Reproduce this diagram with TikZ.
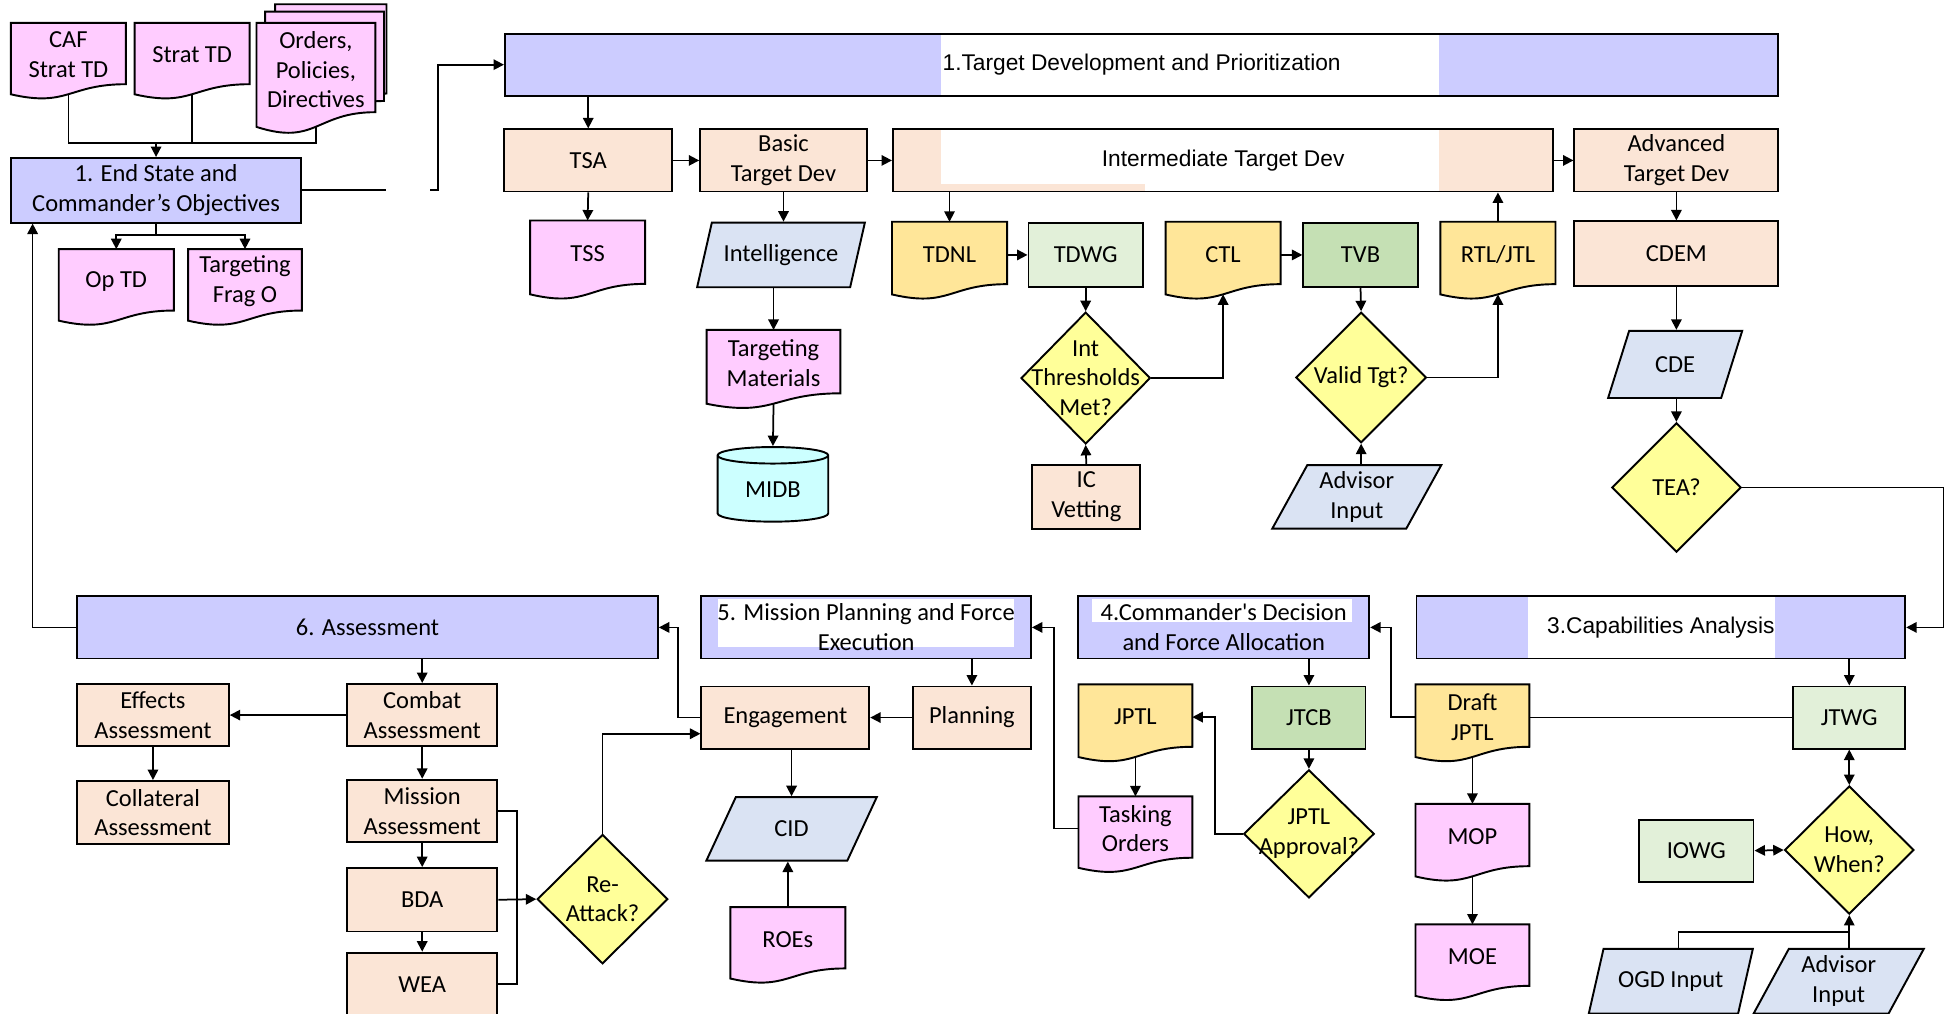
\documentclass[tikz,border=0pt]{standalone}
\usepackage{fontspec}
\setmainfont{Carlito}
\newfontfamily\arialf{Liberation Sans}
\newfontfamily\plainf{Carlito}[Ligatures=TeXOff]
\usepackage{tikz}
\usetikzlibrary{arrows.meta,positioning,calc,shapes.geometric}

\definecolor{phaselav}{RGB}{204,204,255}
\definecolor{procpeach}{RGB}{251,229,214}
\definecolor{docpink}{RGB}{255,204,255}
\definecolor{listgold}{RGB}{255,230,153}
\definecolor{wglight}{RGB}{226,240,217}
\definecolor{boardgrn}{RGB}{197,224,180}
\definecolor{decyel}{RGB}{255,255,153}
\definecolor{inblue}{RGB}{218,227,243}
\definecolor{dbcyan}{RGB}{204,255,255}

\newcommand\pxu{0.025cm}
\newcommand\bodyf{\fontsize{14}{17}\selectfont}
\newcommand\hdrf{\arialf\fontsize{13}{17}\selectfont}

% flowchart "document" shape: wavy bottom edge, text sits a little high
\makeatletter
\newdimen\dcxa \newdimen\dcya \newdimen\dcxb \newdimen\dcyb
\newdimen\dcxm \newdimen\dcyr \newdimen\dcyl \newdimen\dcyc \newdimen\dcyt
\pgfdeclareshape{docpage}{
  \inheritsavedanchors[from=rectangle]
  \inheritanchorborder[from=rectangle]
  \inheritanchor[from=rectangle]{center}
  \inheritanchor[from=rectangle]{mid}
  \inheritanchor[from=rectangle]{base}
  \inheritanchor[from=rectangle]{east}
  \inheritanchor[from=rectangle]{west}
  \anchor{north}{%
    \southwest \dcxa=\pgf@x \dcya=\pgf@y
    \northeast \dcxb=\pgf@x \dcyb=\pgf@y
    \pgf@x=.5\dcxa \advance\pgf@x by .5\dcxb
    \pgf@y=\dcyb \advance\pgf@y by -\dcya
    \pgf@y=-.08\pgf@y \advance\pgf@y by \dcyb}
  \anchor{south}{%
    \southwest \dcxa=\pgf@x \dcya=\pgf@y
    \northeast \dcxb=\pgf@x \dcyb=\pgf@y
    \pgf@x=.5\dcxa \advance\pgf@x by .5\dcxb
    \pgf@y=\dcyb \advance\pgf@y by -\dcya
    \pgf@y=-1.013\pgf@y \advance\pgf@y by \dcyb}
  \backgroundpath{%
    \southwest \dcxa=\pgf@x \dcya=\pgf@y
    \northeast \dcxb=\pgf@x \dcyb=\pgf@y
    \dcxm=.5\dcxa \advance\dcxm by .5\dcxb
    \dcyt=\dcyb \advance\dcyt by -\dcya
    \dcyr=-.802\dcyt \dcyl=-.934\dcyt \dcyc=-1.107\dcyt
    \dcyt=-.08\dcyt \advance\dcyt by \dcyb
    \advance\dcyr by \dcyt \advance\dcyl by \dcyt \advance\dcyc by \dcyt
    \pgfpathmoveto{\pgfqpoint{\dcxa}{\dcyt}}
    \pgfpathlineto{\pgfqpoint{\dcxb}{\dcyt}}
    \pgfpathlineto{\pgfqpoint{\dcxb}{\dcyr}}
    \pgfpathcurveto{\pgfqpoint{\dcxm}{\dcyr}}{\pgfqpoint{\dcxm}{\dcyc}}{\pgfqpoint{\dcxa}{\dcyl}}
    \pgfpathclose}
}
\makeatother

% white patch inside a box, offsets from its top left corner
\newcommand\wpatch[4]{%
  \fill[white] ([shift={(#1*\pxu,-#2*\pxu)}]path picture bounding box.north west)
    rectangle ([shift={(#3*\pxu,-#4*\pxu)}]path picture bounding box.north west);}

\tikzset{
  flbase/.style={draw, line width=1.1pt, font=\bodyf, align=center, inner sep=1pt},
  procbox/.style={flbase, rectangle, fill=procpeach},
  phasebox/.style={flbase, rectangle, fill=phaselav},
  wgbox/.style={flbase, rectangle, fill=wglight},
  boardbox/.style={flbase, rectangle, fill=boardgrn},
  docbox/.style={flbase, shape=docpage, fill=docpink},
  listdoc/.style={flbase, shape=docpage, fill=listgold},
  inbox/.style={flbase, trapezium, trapezium left angle=63, trapezium right angle=117,
                trapezium stretches=true, fill=inblue},
  decide/.style={flbase, diamond, fill=decyel, inner sep=0pt},
  dbbox/.style={flbase, cylinder, shape border rotate=90, aspect=0.28, fill=dbcyan},
  dtext/.style={align=center, font=\bodyf, inner sep=0pt},
  sz/.style 2 args={minimum width=#1*\pxu, minimum height=#2*\pxu},
  link/.style={line width=1pt},
  arr/.style={link, -{Triangle[length=2.1mm, width=2.1mm]}},
  dblarr/.style={link, {Triangle[length=2.1mm, width=2.1mm]}-{Triangle[length=2.1mm, width=2.1mm]}}
}

\begin{document}
\begin{tikzpicture}[x=0.025cm, y=-0.025cm]
  \useasboundingbox (0,0) rectangle (1568,815);

  % guidance inputs and end state
  \node[docbox, sz={91}{60}] (caf) at (55,44.2) {CAF\\Strat TD};
  \node[docbox, sz={91}{60}] (strat) at (154.5,44.2) {Strat TD};
  \node[docbox, sz={88}{88}] (ord3) at (266,41) {};
  \node[docbox, sz={94}{88}] (ord2) at (261,47) {};
  \node[docbox, sz={94}{88}] (ord) at (254,56) {Orders,\\Policies,\\Directives};
  \node[phasebox, sz={233}{52}] (endst) at (125.5,153) {1. End State and\\Commander’s Objectives};
  \node[docbox, sz={91}{60}] (optd) at (93.5,226.2) {Op TD};
  \node[docbox, sz={90}{60}] (frago) at (197,226.2) {Targeting\\Frag O};

  % phase 2: target development
  \node[phasebox, sz={1024}{50}, font=\hdrf, path picture={\wpatch{351}{0}{751}{50}}] (hdr1)
    at (918,52) {1.Target Development and Prioritization};
  \node[procbox, sz={135}{50}] (tsa) at (473,129) {TSA};
  \node[procbox, sz={134}{50}] (basic) at (630,129) {Basic\\Target Dev};
  \node[procbox, sz={531}{50}, font=\hdrf,
        path picture={\wpatch{39}{0}{439}{44}\wpatch{203}{43}{439}{50}}] (inter)
    at (983.5,129) {Intermediate Target Dev};
  \node[procbox, sz={164}{50}] (adv) at (1348,129) {Advanced\\Target Dev};

  \node[docbox, sz={91}{62}] (tss) at (472.5,204) {TSS};
  \node[inbox, sz={136}{52}] (intel) at (628,205) {Intelligence};
  \node[listdoc, sz={91}{61}] (tdnl) at (763.5,204.6) {TDNL};
  \node[wgbox, sz={92}{52}] (tdwg) at (873,205) {TDWG};
  \node[listdoc, sz={91}{61}] (ctl) at (983.5,204.6) {CTL};
  \node[boardbox, sz={92}{52}] (tvb) at (1094,205) {TVB};
  \node[listdoc, sz={91}{61}] (rtl) at (1204.5,204.6) {RTL/JTL};
  \node[procbox, sz={164}{52}] (cdem) at (1348,204) {CDEM};

  \node[docbox, sz={106}{62}] (tmat) at (622,292) {Targeting\\Materials};
  \node[dbbox, sz={89}{60}] (midb) at (621.5,394) {MIDB};
  \node[decide, sz={104}{106}, label={[dtext]center:Int\\Thresholds\\Met?}] (thr) at (873,304) {};
  \node[procbox, sz={87}{51}] (icv) at (873.5,399.5) {IC\\Vetting};
  \node[decide, sz={105}{105}, label={[dtext]center:Valid Tgt?}] (valid) at (1094.5,303.5) {};
  \node[inbox, sz={136}{51}] (advin) at (1091,399.5) {Advisor\\Input};
  \node[inbox, sz={108}{54}] (cde) at (1347,293) {CDE};
  \node[decide, sz={104}{104}, label={[dtext]center:TEA?}] (tea) at (1348,392) {};

  % phases 3 to 6
  \node[phasebox, sz={467}{50}] (asm) at (295.5,504.5) {6. Assessment};
  \node[phasebox, sz={265}{50}, path picture={\wpatch{13}{2}{251}{41}}] (hdr5)
    at (696.5,504.5) {5. Mission Planning and Force\\Execution};
  \node[phasebox, sz={234}{50}, path picture={\wpatch{11}{2}{220}{21}}] (hdr4)
    at (984,504.5) {4.Commander{\plainf'}s Decision\\and Force Allocation};
  \node[phasebox, sz={393}{50}, font=\hdrf, path picture={\wpatch{90}{0}{288}{50}}] (hdr3)
    at (1335.5,504.5) {3.Capabilities Analysis};

  \node[procbox, sz={122}{50}] (effa) at (123,575) {Effects\\Assessment};
  \node[procbox, sz={122}{51}] (colla) at (123,653.5) {Collateral\\Assessment};
  \node[procbox, sz={121}{50}] (comba) at (339.5,575) {Combat\\Assessment};
  \node[procbox, sz={121}{50}] (missa) at (339.5,652) {Mission\\Assessment};
  \node[procbox, sz={121}{51}] (bda) at (339.5,723.5) {BDA};
  \node[procbox, sz={121}{51}] (wea) at (339.5,791.5) {WEA};
  \node[decide, sz={105}{104}, label={[dtext]center:Re-\\Attack?}] (reatk) at (484.5,723) {};

  \node[procbox, sz={135}{50}] (eng) at (631.5,577) {Engagement};
  \node[procbox, sz={95}{50}] (plan) at (781.5,577) {Planning};
  \node[inbox, sz={137}{51}] (cid) at (636.5,666.5) {CID};
  \node[docbox, sz={91}{60}] (roes) at (633.5,755.2) {ROEs};

  \node[listdoc, sz={90}{61}] (jptl) at (913,576.6) {JPTL};
  \node[docbox, sz={90}{60}] (task) at (913,666.2) {Tasking\\Orders};
  \node[boardbox, sz={91}{50}] (jtcb) at (1052.5,577) {JTCB};
  \node[decide, sz={105}{103}, label={[dtext]center:JPTL\\Approval?}] (jappr) at (1052.5,670.5) {};

  \node[listdoc, sz={90}{61}] (draft) at (1184,576.6) {Draft\\JPTL};
  \node[docbox, sz={90}{61}] (mop) at (1184,672.6) {MOP};
  \node[docbox, sz={90}{60}] (moe) at (1184,769.2) {MOE};
  \node[wgbox, sz={90}{50}] (jtwg) at (1487,577) {JTWG};
  \node[decide, sz={104}{103}, label={[dtext]center:How,\\When?}] (hw) at (1487,683.5) {};
  \node[wgbox, sz={92}{50}] (iowg) at (1364,684) {IOWG};
  \node[inbox, sz={133}{52}] (ogd) at (1343.5,789) {OGD Input};
  \node[inbox, sz={137}{52}] (advin2) at (1478.5,789) {Advisor\\Input};

  % connectors: inputs
  \coordinate (injn) at (125.5,115);
  \draw[link] (caf.south) |- (injn);
  \draw[link] (strat.south) -- (strat.south |- injn);
  \draw[link] (ord.south) |- (injn);
  \draw[arr] (injn) -- (endst.north);
  \coordinate (fork) at (125.5,189);
  \draw[link] (endst.south) -- (fork);
  \draw[arr] (fork) -| (optd.north);
  \draw[arr] (fork) -| (frago.north);
  \coordinate (gapl) at (310,153);
  \coordinate (gapr) at (346,153);
  \draw[link] (endst.east) -- (gapl);
  \draw[arr] (gapr) -- ++(6,0) |- (hdr1.west);

  % connectors: target development
  \draw[arr] (hdr1.south -| tsa.north) -- (tsa.north);
  \draw[arr] (tsa.east) -- (basic.west);
  \draw[arr] (basic.east) -- (inter.west);
  \draw[arr] (inter.east) -- (adv.west);
  \draw[arr] (tsa.south) -- (tss.north);
  \draw[arr] (basic.south) -- (intel.north -| basic.south);
  \draw[arr] (inter.south -| tdnl.north) -- (tdnl.north);
  \draw[arr] (tdnl.east |- tdwg.west) -- (tdwg.west);
  \draw[arr] (ctl.east |- tvb.west) -- (tvb.west);
  \draw[arr] (rtl.north) -- (rtl.north |- inter.south);
  \draw[arr] (adv.south) -- (cdem.north);
  \draw[arr] (intel.south -| tmat.north) -- (tmat.north);
  \draw[arr] (tmat.south) -- (midb.north);
  \draw[arr] (tdwg.south) -- (thr.north);
  \draw[arr] (thr.east) -| (ctl.south);
  \draw[arr] (icv.north) -- (thr.south);
  \draw[arr] (tvb.south) -- (valid.north);
  \draw[arr] (valid.east) -| (rtl.south);
  \draw[arr] (advin.north -| valid.south) -- (valid.south);
  \draw[arr] (cdem.south) -- (cde.north -| cdem.south);
  \draw[arr] (cde.south -| tea.north) -- (tea.north);
  \draw[arr] (tea.east) -- ++(162,0) |- (hdr3.east);

  % connectors: assessment
  \draw[arr] (asm.west) -| ([xshift=18*\pxu]endst.south west);
  \draw[arr] (asm.south -| comba.north) -- (comba.north);
  \draw[arr] (comba.west) -- (effa.east);
  \draw[arr] (effa.south) -- (colla.north);
  \draw[arr] (comba.south) -- (missa.north);
  \draw[arr] (missa.south) -- (bda.north);
  \draw[arr] (bda.south) -- (wea.north);
  \coordinate (bmrg) at (416,723.5);
  \draw[link] (missa.east) -| (bmrg);
  \draw[link] (wea.east) -| (bmrg);
  \draw[arr] (bda.east) -- (reatk.west);
  \draw[arr] (reatk.north) |- ([yshift=-13*\pxu]eng.west);
  \draw[arr] (eng.west) -- ++(-18,0) |- (asm.east);

  % connectors: mission planning, decision
  \draw[arr] (hdr5.south -| plan.north) -- (plan.north);
  \draw[arr] (plan.west) -- (eng.east);
  \draw[arr] (eng.south -| cid.north) -- (cid.north);
  \draw[arr] (roes.north) -- (roes.north |- cid.south);
  \draw[arr] (hdr4.south -| jtcb.north) -- (jtcb.north);
  \draw[arr] (jtcb.south) -- (jappr.north);
  \draw[arr] (jappr.west) -- ++(-22,0) |- (jptl.east);
  \draw[arr] (jptl.south) -- (task.north);
  \draw[arr] (task.west) -- ++(-20,0) |- (hdr5.east);

  % connectors: capabilities analysis
  \draw[arr] (hdr3.south -| jtwg.north) -- (jtwg.north);
  \draw[link] (jtwg.west) -- (jtwg.west -| draft.east);
  \draw[arr] (draft.west) -- ++(-20,0) |- (hdr4.east);
  \draw[arr] (draft.south) -- (mop.north);
  \draw[arr] (mop.south) -- (moe.north);
  \draw[dblarr] (jtwg.south) -- (hw.north);
  \draw[dblarr] (iowg.east) -- (hw.west);
  \coordinate (injn2) at (1487,749.5);
  \draw[link] (ogd.top side) |- (injn2);
  \draw[arr] (advin2.north -| hw.south) -- (hw.south);
\end{tikzpicture}
\end{document}
